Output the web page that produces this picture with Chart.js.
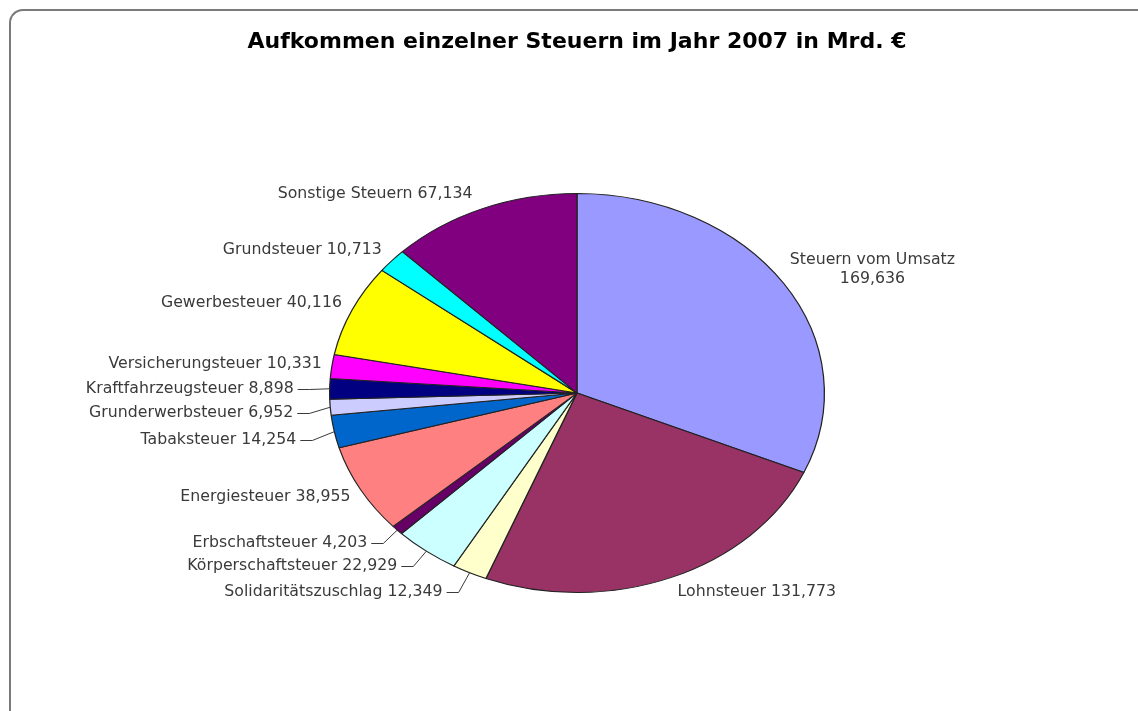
<!DOCTYPE html>
<html lang="de">
<head>
<meta charset="utf-8">
<title>Aufkommen einzelner Steuern 2007</title>
<script src="https://cdn.jsdelivr.net/npm/chart.js@4/dist/chart.umd.min.js"></script>
<style>
  html, body { margin: 0; padding: 0; background: #fff; overflow: hidden; }
  #rahmen {
    position: absolute; left: 9px; top: 9px; width: 1200px; height: 700px;
    border-left: 2px solid #7a7a7a; border-top: 2px solid #7a7a7a;
    border-top-left-radius: 14px;
  }
  #steuerChart { position: absolute; left: 0; top: 0; }
</style>
</head>
<body>
<div id="rahmen"></div>
<canvas id="steuerChart" width="1138" height="711"></canvas>
<script>
// Daten (Mrd. Euro), im Uhrzeigersinn ab 12 Uhr
const steuerarten = [
    'Steuern vom Umsatz', 'Lohnsteuer', 'Solidaritätszuschlag', 'Körperschaftsteuer',
    'Erbschaftsteuer', 'Energiesteuer', 'Tabaksteuer', 'Grunderwerbsteuer',
    'Kraftfahrzeugsteuer', 'Versicherungsteuer', 'Gewerbesteuer', 'Grundsteuer',
    'Sonstige Steuern'
];
const aufkommen = [
    169.636, 131.773, 12.349, 22.929,
    4.203, 38.955, 14.254, 6.952,
    8.898, 10.331, 40.116, 10.713,
    67.134
];
const farben = [
    '#9999FF', '#993366', '#FFFFCC', '#CCFFFF',
    '#660066', '#FF8080', '#0066CC', '#CCCCFF',
    '#000080', '#FF00FF', '#FFFF00', '#00FFFF',
    '#800080'
];
const zweizeilig = ['Steuern vom Umsatz'];

// Kreis wird wie im Original zur Ellipse gestreckt
const STRECKUNG = 1.24;
// Beschriftung leicht in die Breite gezogen
const TEXT_STRECKUNG = 1.05;

// verschobene Beschriftungen mit Führungslinie: Index -> [dx, dy] zum Randpunkt
const fuehrung = {
    2: [-27, 19],
    3: [-29, 15],
    4: [-30, 13],
    6: [-38, 8],
    7: [-37, 6],
    8: [-36, 0]
};

function zahlText(v) {
    return v.toFixed(3).replace('.', ',');
}

const ellipsePlugin = {
    id: 'ellipse',
    beforeDatasetsDraw(chart) {
        const arc = chart.getDatasetMeta(0).data[0];
        const ctx = chart.ctx;
        ctx.save();
        ctx.translate(arc.x, arc.y);
        ctx.scale(STRECKUNG, 1);
        ctx.translate(-arc.x, -arc.y);
    },
    afterDatasetsDraw(chart) {
        chart.ctx.restore();
    }
};

const beschriftungPlugin = {
    id: 'beschriftung',
    afterDraw(chart) {
        const ctx = chart.ctx;
        const meta = chart.getDatasetMeta(0);
        ctx.save();
        ctx.font = '15px "DejaVu Sans", Verdana, sans-serif';
        ctx.fillStyle = '#3a3a3a';
        ctx.strokeStyle = '#3a3a3a';
        ctx.lineWidth = 1;
        ctx.textBaseline = 'middle';
        ctx.textAlign = 'center';

        meta.data.forEach((arc, i) => {
            const mitte = (arc.startAngle + arc.endAngle) / 2;
            const px = arc.x + Math.cos(mitte) * arc.outerRadius * STRECKUNG;
            const py = arc.y + Math.sin(mitte) * arc.outerRadius;
            const links = Math.cos(mitte) < 0;

            const name = steuerarten[i];
            const zeilen = zweizeilig.includes(name)
                ? [name, zahlText(aufkommen[i])]
                : [name + ' ' + zahlText(aufkommen[i])];
            const zeilenHoehe = 19;
            const h = zeilen.length * zeilenHoehe - 3;
            const w = Math.max(...zeilen.map(z => ctx.measureText(z).width)) * TEXT_STRECKUNG;

            let tx, ty;
            if (fuehrung[i]) {
                tx = px + fuehrung[i][0];
                ty = py + fuehrung[i][1];
                ctx.beginPath();
                ctx.moveTo(tx + 4, Math.round(ty) + 0.5);
                ctx.lineTo(tx + 16, Math.round(ty) + 0.5);
                ctx.lineTo(px, py);
                ctx.stroke();
            } else {
                tx = px + (links ? -10 : 6);
                ty = py + (h / 2 + 8) * Math.sin(mitte);
            }

            const boxLinks = links ? tx - w : tx;
            const y0 = ty - (zeilen.length - 1) * zeilenHoehe / 2;
            zeilen.forEach((z, k) => {
                ctx.save();
                ctx.translate(boxLinks + w / 2, y0 + k * zeilenHoehe);
                ctx.scale(TEXT_STRECKUNG, 1);
                ctx.fillText(z, 0, 0);
                ctx.restore();
            });
        });
        ctx.restore();
    }
};

function zeichneDiagramm() {
    const ctx = document.getElementById('steuerChart').getContext('2d');
    new Chart(ctx, {
        type: 'pie',
        data: {
            labels: steuerarten,
            datasets: [{
                data: aufkommen,
                backgroundColor: farben,
                borderColor: '#222',
                borderWidth: 1
            }]
        },
        options: {
            responsive: false,
            animation: false,
            events: [],
            layout: { padding: { top: 20, left: 230, right: 214, bottom: 118 } },
            plugins: {
                legend: { display: false },
                tooltip: { enabled: false },
                title: {
                    display: true,
                    text: 'Aufkommen einzelner Steuern im Jahr 2007 in Mrd. €',
                    color: '#000',
                    font: { family: '"DejaVu Sans", Verdana, sans-serif', size: 22, weight: 'bold' },
                    padding: { top: 9, bottom: 137.6 }
                }
            }
        },
        plugins: [ellipsePlugin, beschriftungPlugin]
    });
}

document.addEventListener('DOMContentLoaded', zeichneDiagramm);
</script>
</body>
</html>
